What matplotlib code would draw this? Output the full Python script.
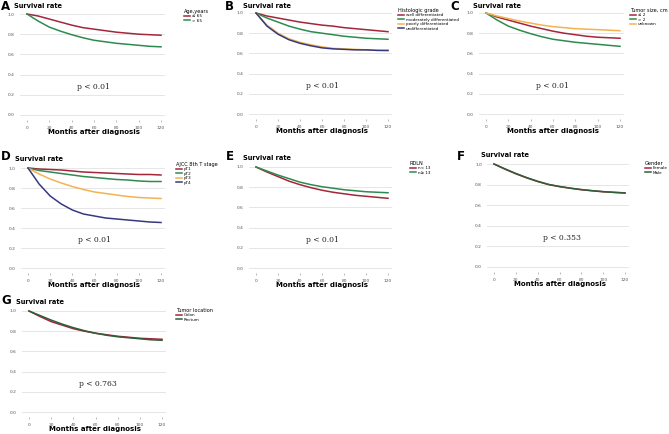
import matplotlib.pyplot as plt
import numpy as np

W, H = 669, 434

months = [0, 10, 20, 30, 40, 50, 60, 70, 80, 90, 100, 110, 120]

# A - age
age_le65 = [1.0, 0.98, 0.95, 0.92, 0.89, 0.865, 0.85, 0.835, 0.82, 0.81, 0.80, 0.795, 0.79]
age_gt65 = [1.0, 0.93, 0.87, 0.83, 0.795, 0.765, 0.74, 0.725, 0.71, 0.70, 0.69, 0.68, 0.675]
# B - histologic grade
grade_well = [1.0, 0.97, 0.95, 0.93, 0.91, 0.895, 0.88, 0.87, 0.855, 0.845, 0.835, 0.825, 0.815]
grade_mod = [1.0, 0.95, 0.91, 0.87, 0.84, 0.815, 0.80, 0.785, 0.77, 0.76, 0.75, 0.745, 0.74]
grade_poor = [1.0, 0.88, 0.80, 0.745, 0.71, 0.685, 0.665, 0.65, 0.645, 0.64, 0.635, 0.63, 0.625]
grade_undiff = [1.0, 0.87, 0.79, 0.735, 0.70, 0.675, 0.655, 0.645, 0.64, 0.635, 0.635, 0.63, 0.63]
# C - tumor size
size_le2 = [1.0, 0.96, 0.93, 0.90, 0.87, 0.845, 0.82, 0.80, 0.785, 0.77, 0.76, 0.755, 0.75]
size_gt2 = [1.0, 0.93, 0.87, 0.83, 0.795, 0.765, 0.74, 0.725, 0.71, 0.70, 0.69, 0.68, 0.67]
size_unk = [1.0, 0.97, 0.945, 0.92, 0.90, 0.88, 0.865, 0.855, 0.845, 0.84, 0.835, 0.83, 0.825]
# D - T stage
t1 = [1.0, 0.99, 0.985, 0.98, 0.97, 0.96, 0.955, 0.95, 0.945, 0.94, 0.935, 0.935, 0.93]
t2 = [1.0, 0.975, 0.96, 0.945, 0.93, 0.915, 0.905, 0.895, 0.885, 0.88, 0.87, 0.865, 0.865]
t3 = [1.0, 0.94, 0.89, 0.85, 0.815, 0.785, 0.76, 0.745, 0.73, 0.715, 0.705, 0.70, 0.695]
t4 = [1.0, 0.84, 0.72, 0.64, 0.58, 0.54, 0.52, 0.50, 0.49, 0.48, 0.47, 0.46, 0.455]
# E - RDLN
ln_lt13 = [1.0, 0.95, 0.905, 0.86, 0.825, 0.795, 0.77, 0.75, 0.735, 0.72, 0.71, 0.70, 0.69]
ln_ge13 = [1.0, 0.96, 0.92, 0.885, 0.85, 0.825, 0.805, 0.79, 0.775, 0.765, 0.755, 0.75, 0.745]
# F - gender
female = [1.0, 0.95, 0.905, 0.865, 0.83, 0.80, 0.78, 0.765, 0.75, 0.74, 0.73, 0.725, 0.72]
male = [1.0, 0.953, 0.908, 0.868, 0.832, 0.802, 0.782, 0.765, 0.752, 0.741, 0.732, 0.724, 0.718]
# G - location
colon = [1.0, 0.945, 0.895, 0.86, 0.825, 0.80, 0.78, 0.765, 0.75, 0.74, 0.73, 0.725, 0.72]
rectum = [1.0, 0.955, 0.91, 0.87, 0.835, 0.805, 0.78, 0.76, 0.745, 0.735, 0.725, 0.715, 0.71]

RED = '#a3263a'
GREEN = '#2e8b4e'
ORANGE = '#f4b350'
NAVY = '#353a80'
DKGREEN = '#2f5e3a'

yticks = [0.0, 0.2, 0.4, 0.6, 0.8, 1.0]
xticks = [0, 20, 40, 60, 80, 100, 120]

fig = plt.figure(figsize=(W / 100, H / 100), dpi=100)


def panel(letter, letxy, x0, x120, y1, y0, series, title, legxy, ptext, ptx=45):
    # x0/x120: pixel of month 0 / 120 ; y1/y0: pixel of 1.0 / 0.0
    sx = (x120 - x0) / 120.0
    sy = (y0 - y1) / 1.0
    xlo, xhi = -6, 124
    ylo, yhi = -0.05, 1.05
    left = x0 + xlo * sx
    right = x0 + xhi * sx
    top = y0 - yhi * sy
    bot = y0 - ylo * sy
    ax = fig.add_axes([left / W, 1 - bot / H, (right - left) / W, (bot - top) / H])
    for lab, vals, col in series:
        ax.plot(months, vals, color=col, lw=1.1, label=lab)
    ax.set_xlim(xlo, xhi)
    ax.set_ylim(ylo, yhi)
    ax.set_yticks(yticks)
    ax.set_yticklabels(['%.1f' % v for v in yticks])
    ax.set_xticks(xticks)
    ax.tick_params(axis='y', length=0, labelsize=3.2, labelcolor='#555555', pad=4)
    ax.tick_params(axis='x', length=1.5, width=0.4, color='#888888', labelsize=3.2,
                   labelcolor='#555555', pad=3)
    for s in ax.spines.values():
        s.set_visible(False)
    ax.grid(axis='y', color='#e2e2e2', lw=0.6)
    ax.set_axisbelow(True)
    ax.text(ptx, 0.26, ptext, fontsize=5.5, family='DejaVu Serif', color='#222222')
    fig.text((x0 + (x120 - x0) * 0.5) / W, 1 - (y0 + 17) / H, 'Months after diagnosis',
             fontsize=5, fontweight='bold', ha='center', va='center')
    fig.text((x0 - 13) / W, 1 - max(y1 - 9, 5.5) / H, 'Survival rate', fontsize=4.8,
             fontweight='bold', ha='left', va='center')
    fig.text(letxy[0] / W, 1 - letxy[1] / H, letter, fontsize=8.5,
             fontweight='bold', ha='left', va='center')
    leg = fig.legend(handles=ax.get_lines(), title=title, loc='upper left',
                     bbox_to_anchor=(legxy[0] / W, 1 - legxy[1] / H),
                     frameon=False, fontsize=3, title_fontsize=3.6,
                     handlelength=1.4, handletextpad=0.4, labelspacing=0.1,
                     borderpad=0, borderaxespad=0)
    leg._legend_box.align = 'left'
    return ax


panel('A', (1, 6), 27, 161, 14, 115,
      [('\u2264 65', age_le65, RED), ('> 65', age_gt65, GREEN)],
      'Age,years', (184, 9), 'p < 0.01')
panel('B', (225, 6), 256, 388, 13, 114,
      [('well differentiated', grade_well, RED),
       ('moderately differentiated', grade_mod, GREEN),
       ('poorly differentiated', grade_poor, ORANGE),
       ('undifferentiated', grade_undiff, NAVY)],
      'Histologic grade', (398, 8), 'p < 0.01')
panel('C', (450, 6), 486, 620, 13, 114,
      [('\u2264 2', size_le2, RED), ('> 2', size_gt2, GREEN), ('unknown', size_unk, ORANGE)],
      'Tumor size, cm', (630, 8), 'p < 0.01')
panel('D', (1, 156), 28, 161, 168, 268,
      [('pT1', t1, RED), ('pT2', t2, GREEN), ('pT3', t3, ORANGE), ('pT4', t4, NAVY)],
      'AJCC 8th T stage', (176, 162), 'p < 0.01')
panel('E', (226, 157), 256, 388, 167, 268,
      [('n< 13', ln_lt13, RED), ('n\u2265 13', ln_ge13, GREEN)],
      'RDLN', (410, 161), 'p < 0.01')
panel('F', (457, 157), 494, 625, 164, 267,
      [('Female', female, RED), ('Male', male, DKGREEN)],
      'Gender', (645, 161), 'p < 0.353')
panel('G', (1, 300), 29, 162, 311, 412,
      [('Colon', colon, RED), ('Rectum', rectum, DKGREEN)],
      'Tumor location', (176, 308), 'p < 0.763')

fig.savefig('out.png', dpi=100)
